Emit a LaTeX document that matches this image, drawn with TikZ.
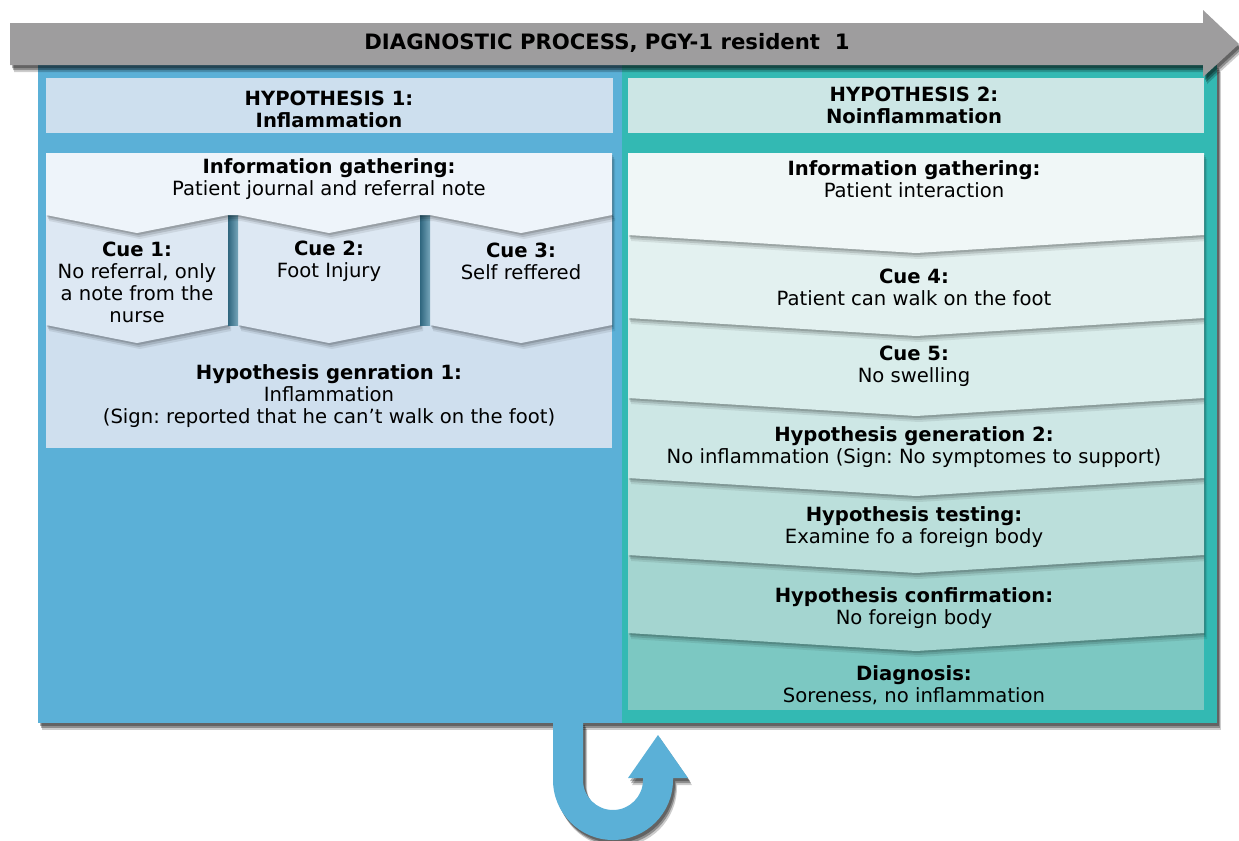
\documentclass[tikz,border=0pt]{standalone}
\usepackage{fontspec}
\setmainfont{DejaVu Sans}
\usetikzlibrary{shadows}
\definecolor{procgray}{HTML}{9E9D9E}
\definecolor{panelblue}{HTML}{5BB0D7}
\definecolor{panelteal}{HTML}{33B9B3}
\definecolor{headblue}{HTML}{CDDFEE}
\definecolor{headteal}{HTML}{CCE6E5}
\definecolor{infoblue}{HTML}{EEF4FA}
\definecolor{cueblue}{HTML}{DDE8F3}
\definecolor{genblue}{HTML}{CFDFEE}
\definecolor{barblue}{HTML}{3B7F9D}
\definecolor{infoteal}{HTML}{F0F7F7}
\definecolor{cueteal}{HTML}{E3F1F0}
\definecolor{cuetealb}{HTML}{D9EDEB}
\definecolor{genteal}{HTML}{CDE7E5}
\definecolor{testteal}{HTML}{BBDFDB}
\definecolor{confteal}{HTML}{A4D5D0}
\definecolor{diagteal}{HTML}{7CC8C2}
\newcommand{\diagfont}{\fontsize{9.8}{11}\selectfont}
\frenchspacing
\begin{document}
\begin{tikzpicture}[x=0.5pt, y=-0.5pt, line join=round,
 bigshadow/.style={drop shadow={shadow xshift=1pt, shadow yshift=-1.5pt, opacity=.3, fill=black},
  drop shadow={shadow xshift=1.5pt, shadow yshift=-2.5pt, opacity=.3, fill=black},
  drop shadow={shadow xshift=2pt, shadow yshift=-3.5pt, opacity=.2, fill=black}},
 chevshadow/.style={drop shadow={shadow xshift=.5pt, shadow yshift=-1pt, opacity=.15, fill=black},
  drop shadow={shadow xshift=1pt, shadow yshift=-2pt, opacity=.12, fill=black},
  drop shadow={shadow xshift=1.5pt, shadow yshift=-3pt, opacity=.08, fill=black}},
 boxtext/.style={align=center, font=\diagfont, inner sep=0pt}]
 \useasboundingbox (0,0) rectangle (1239,841);
 % the two panels and the turn arrow
 \fill[panelblue, bigshadow] (38,65) rectangle (622,723);
 \fill[panelteal, bigshadow] (622,65) rectangle (1217,723);
 \fill[panelblue, bigshadow] (553,722) -- (553,780) arc[start angle=180, end angle=0, radius=60] -- (673,778) -- (688,778) -- (658,735) -- (628,778) -- (643,778) -- (643,780) arc[start angle=0, end angle=180, radius=30] -- (583,722) -- cycle;
 % process arrow
 \fill[procgray, bigshadow] (10,23) -- (1203,23) -- (1203,10) -- (1239,44) -- (1203,77) -- (1203,65) -- (10,65) -- cycle;
 \node[font=\fontsize{10.6}{12}\selectfont\bfseries] (title) at (607,43) {DIAGNOSTIC PROCESS, PGY-1 resident\ \ 1};
 % headers
 \fill[headblue] (46,78) rectangle (613,133);
 \fill[headteal] (628,78) rectangle (1204,133);
 % hypothesis 1
 \fill[genblue] (46,325) rectangle (612,448);
 \foreach \xa/\xb in {46/228, 238/420, 430/612}
  \fill[cueblue, chevshadow] (\xa,212) -- (\xb,212) -- (\xb,325) -- ({(\xa+\xb)/2},343) -- (\xa,325) -- cycle;
 \foreach \xa in {228,420}
  \shade[left color=barblue!80!black, right color=barblue!70!white] (\xa,214) rectangle ({\xa+10},325);
 \fill[infoblue, chevshadow] (46,153) -- (612,153) -- (612,215) -- (521,233) -- (430,215) -- (420,215) -- (329,233) -- (238,215) -- (228,215) -- (137,233) -- (46,215) -- cycle;
 % hypothesis 2
 \fill[diagteal] (628,633) rectangle (1204,710);
 \foreach \ya/\yb/\clr in {555/633/confteal, 478/555/testteal, 398/478/genteal, 318/398/cuetealb, 235/318/cueteal, 153/235/infoteal}
  \fill[\clr, chevshadow] (628,\ya) -- (1204,\ya) -- (1204,\yb) -- (916,{\yb+18}) -- (628,\yb) -- cycle;
 % texts
 \node[boxtext] (hypA) at (329,109) {\textbf{HYPOTHESIS 1:}\\\textbf{Inflammation}};
 \node[boxtext] (hypB) at (914,105) {\textbf{HYPOTHESIS 2:}\\\textbf{Noinflammation}};
 \node[boxtext] (infoA) at (329,179) {\textbf{Information gathering:}\\Patient journal and referral note};
 \node[boxtext] (cueA1) at (137,282) {\textbf{Cue 1:}\\No referral, only\\a note from the\\nurse};
 \node[boxtext] (cueA2) at (329,261) {\textbf{Cue 2:}\\Foot Injury};
 \node[boxtext] (cueA3) at (521,261) {\textbf{Cue 3:}\\Self reffered};
 \node[boxtext] (genA) at (329,396) {\textbf{Hypothesis genration 1:}\\Inflammation\\(Sign: reported that he can’t walk on the foot)};
 \node[boxtext] (infoB) at (914,179) {\textbf{Information gathering:}\\Patient interaction};
 \node[boxtext] (cueB4) at (914,287) {\textbf{Cue 4:}\\Patient can walk on the foot};
 \node[boxtext] (cueB5) at (914,366) {\textbf{Cue 5:}\\No swelling};
 \node[boxtext] (genB) at (914,447) {\textbf{Hypothesis generation 2:}\\No inflammation (Sign: No symptomes to support)};
 \node[boxtext] (testB) at (914,527) {\textbf{Hypothesis testing:}\\Examine fo a foreign body};
 \node[boxtext] (confB) at (914,608) {\textbf{Hypothesis confirmation:}\\No foreign body};
 \node[boxtext] (diagB) at (914,685) {\textbf{Diagnosis:}\\Soreness, no inflammation};
\end{tikzpicture}
\end{document}
